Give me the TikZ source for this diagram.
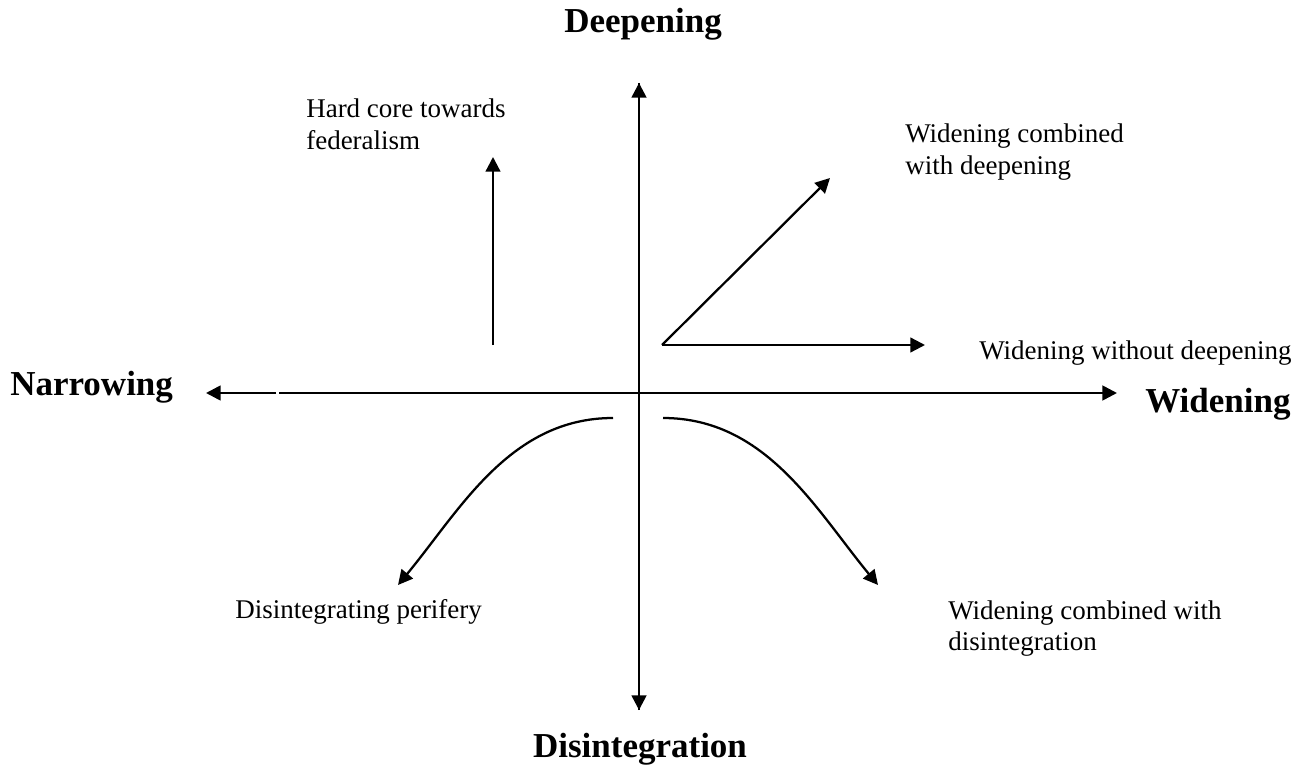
\documentclass[tikz,border=0pt]{standalone}
\usepackage{fontspec}
\setmainfont{Liberation Serif}
\usetikzlibrary{arrows.meta}
\begin{document}
\begin{tikzpicture}[x=0.75pt,y=-0.75pt,
  axis/.style={line width=2pt},
  conn/.style={line width=1.7pt},
  tipend/.style={-{Triangle[length=11pt,width=11pt]}},
  axislabel/.style={font=\fontsize{26.25}{30}\selectfont\bfseries, inner sep=0},
  lbl/.style={font=\fontsize{20.25}{23.3}\selectfont, inner sep=0, align=left, anchor=north west},
  lblone/.style={font=\fontsize{20.25}{23.3}\selectfont, inner sep=0, anchor=base west}]
\useasboundingbox (0,0) rectangle (1305,773);

% coordinates
\coordinate (O) at (639,393);
\coordinate (top) at (639,83);
\coordinate (bot) at (639,710);
\coordinate (right) at (1117,393);
\coordinate (left) at (206,393);
\coordinate (gapR) at (279,393);
\coordinate (gapL) at (276,393);
\coordinate (orig) at (662,345);
\coordinate (wcdTip) at (830,178);
\coordinate (wwdTip) at (925,345);
\coordinate (hcBase) at (493,345);
\coordinate (hcTip) at (493,157);
\coordinate (dpStart) at (613,418);
\coordinate (dpTip) at (398,585);
\coordinate (wdStart) at (663,418);
\coordinate (wdTip) at (878,585);

% axes
\draw[axis,tipend] (bot) -- (top);
\draw[axis,tipend] (top) -- (bot);
\draw[axis,tipend] (O) -- (right);
\draw[axis] (O) -- (gapR);
\draw[axis,tipend] (gapL) -- (left);

% arrows
\draw[conn,tipend] (orig) -- (wcdTip);
\draw[conn,tipend] (orig) -- (wwdTip);
\draw[conn,tipend] (hcBase) -- (hcTip);
\draw[conn,tipend] (dpStart) .. controls (510,418) and (460,510) .. (dpTip);
\draw[conn,tipend] (wdStart) .. controls (766,418) and (816,510) .. (wdTip);

% axis labels
\node[axislabel, anchor=base] (deep) at (643,33) {Deepening};
\node[axislabel, anchor=base] (dis) at (640,757) {Disintegration};
\node[axislabel, anchor=base west] (narrow) at (10,395) {Narrowing};
\node[axislabel, anchor=base west] (widen) at (1145,412) {Widening};

% labels
\node[lbl] (hc) at (306,99) {Hard core towards\\federalism};
\node[lbl] (wcd) at (905,124) {Widening combined\\with deepening};
\node[lblone] (wwd) at (979,359) {Widening without deepening};
\node[lbl] (wcdis) at (948,600) {Widening combined with\\disintegration};
\node[lblone] (dp) at (235,618) {Disintegrating perifery};
\end{tikzpicture}
\end{document}
